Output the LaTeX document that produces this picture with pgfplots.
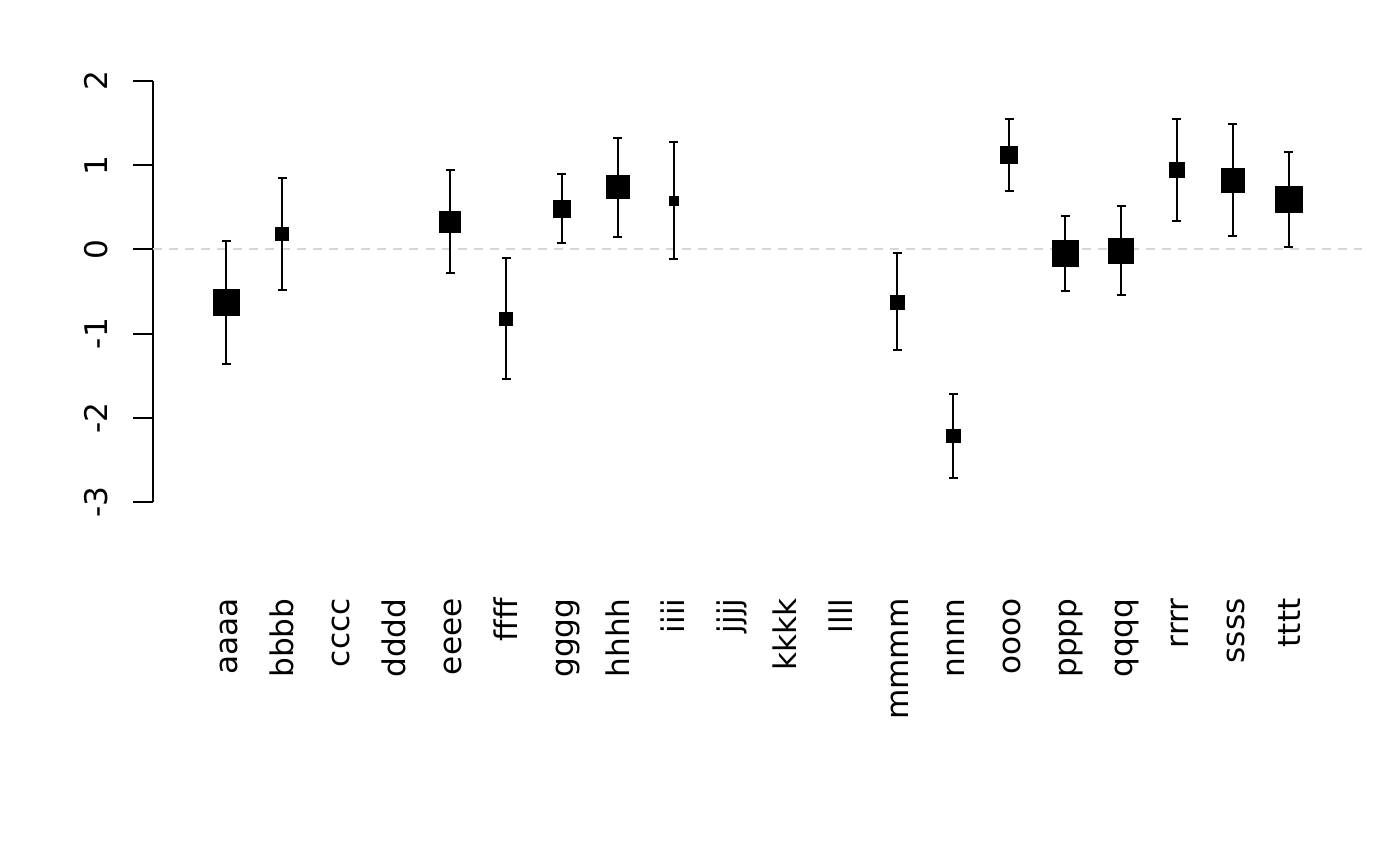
\documentclass[border=0pt]{standalone}
\usepackage{pgfplots}
\pgfplotsset{compat=1.18}
\usepackage{pgfplotstable}
\usepackage{fontspec}
\setmainfont{DejaVu Sans}
\definecolor{zeroline}{RGB}{214,214,214}
\pgfplotstableread{
x y ep em s
1 -0.628 0.729 0.728 6.5
2 0.184 0.662 0.662 3.25
5 0.327 0.617 0.609 5.25
6 -0.822 0.718 0.716 3.25
7 0.485 0.412 0.408 4.25
8 0.739 0.589 0.592 5.75
9 0.576 0.694 0.689 2.1
13 -0.624 0.579 0.569 3.5
14 -2.215 0.495 0.495 3.5
15 1.122 0.428 0.424 4.25
16 -0.044 0.439 0.445 6.5
17 -0.018 0.528 0.526 6.4
18 0.944 0.606 0.609 3.75
19 0.817 0.670 0.659 6
20 0.594 0.558 0.564 6.75
}\datatab
\begin{document}
\fontsize{15.6bp}{18bp}\selectfont
\begin{tikzpicture}
\path[use as bounding box] (-76.75bp,-182bp) rectangle (623.25bp,251bp);
\begin{axis}[
  at={(0,0)}, anchor=south west,
  scale only axis,
  width=604.25bp, height=210.5bp,
  xmin=-0.305, xmax=21.31,
  ymin=-3, ymax=2,
  axis y line*=left, axis x line*=bottom,
  x axis line style={draw=none},
  y axis line style={line width=1bp},
  clip=false,
  tick align=inside,
  major tick length=10bp,
  xtick={1,...,20},
  xticklabels={aaaa,bbbb,cccc,dddd,eeee,ffff,gggg,hhhh,iiii,jjjj,kkkk,llll,mmmm,nnnn,oooo,pppp,qqqq,rrrr,ssss,tttt},
  xtick style={draw=none},
  xticklabel style={rotate=90, anchor=east, inner sep=0pt, text height=0.72em, text depth=0pt, font=\fontsize{15.6bp}{18bp}\selectfont},
  xticklabel shift=48bp,
  ytick={-3,-2,-1,0,1,2},
  yticklabels={-3,-2,-1,0,1,2},
  ytick style={xshift=-10bp, line width=1bp, black},
  yticklabel style={rotate=90, anchor=south, inner sep=0pt, font=\fontsize{15.6bp}{18bp}\selectfont},
  yticklabel shift=22.75bp,
]
\addplot[draw=zeroline, line width=1bp, dash pattern=on 4.5bp off 3.5bp, forget plot] coordinates {(-0.305,0) (21.31,0)};
\addplot[scatter, only marks, mark=square*,
  scatter/use mapped color={draw=none, fill=black},
  visualization depends on={\thisrow{s} \as \ms},
  scatter/@pre marker code/.append style={/tikz/mark size=\ms},
  error bars/.cd, y dir=both, y explicit,
  error bar style={line width=1bp, black},
  error mark options={rotate=90, black, mark size=2.25bp, line width=1bp}
] table[x=x, y=y, y error plus=ep, y error minus=em] {\datatab};
\end{axis}
\end{tikzpicture}
\end{document}
